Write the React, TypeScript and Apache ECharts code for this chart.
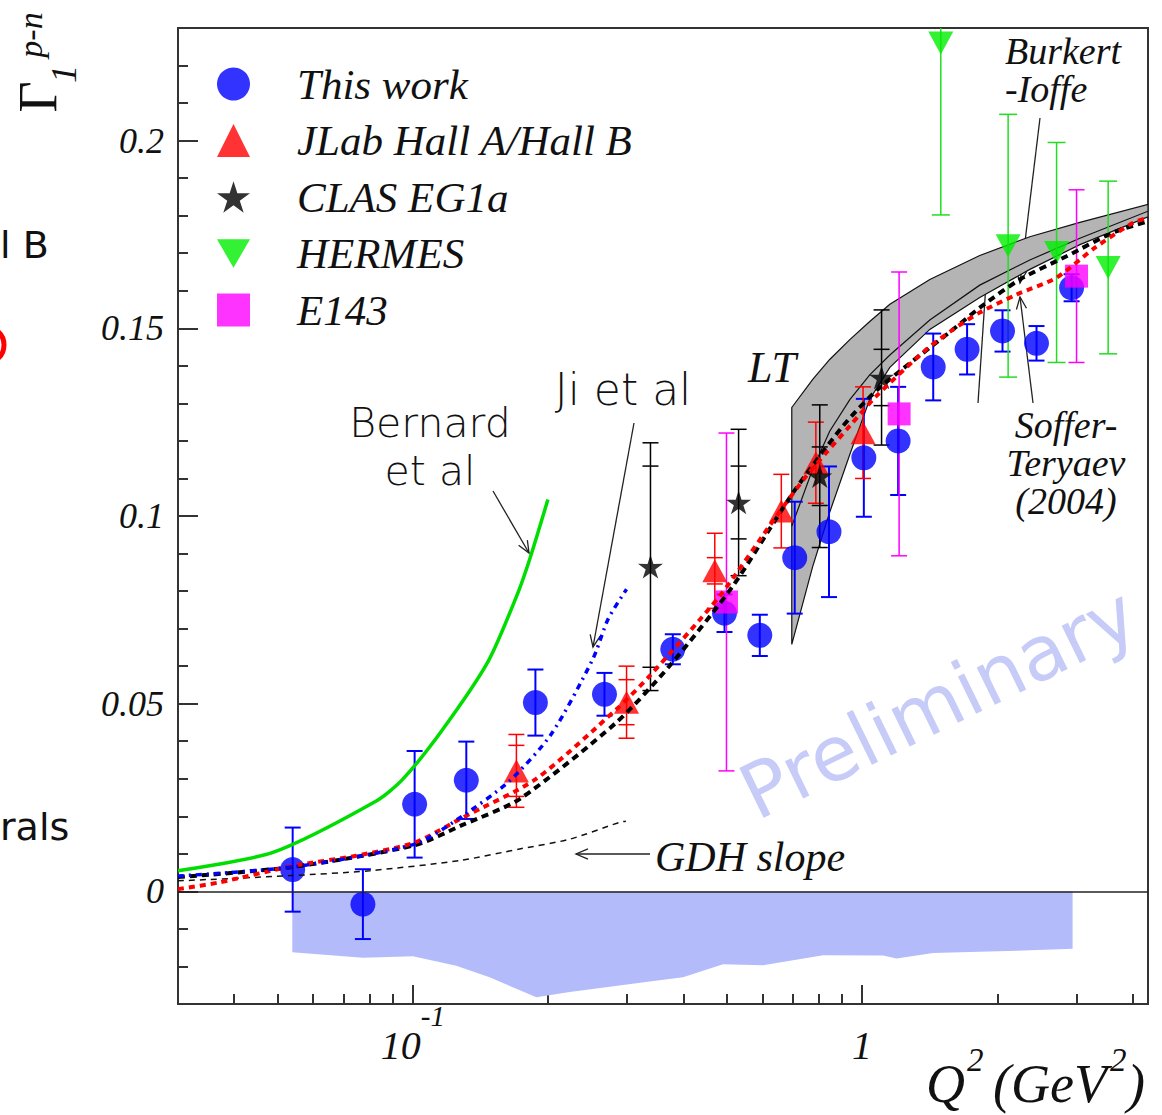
import React, { useEffect, useRef } from 'react';
import * as echarts from 'echarts';

const SERIF = '"Liberation Serif", "Times New Roman", serif';
const SANS = '"DejaVu Sans", Verdana, sans-serif';

// ---------- axes ----------
const X_MIN = 0.03;
const X_MAX = 4.33;
const Y_MIN = -0.03;
const Y_MAX = 0.23;
const xMajorTicks = [0.1, 1];
const xMinorTicks = [0.04, 0.05, 0.06, 0.07, 0.08, 0.09, 0.2, 0.3, 0.4, 0.5, 0.6, 0.7, 0.8, 0.9, 2, 3, 4];
const yMajorTicks = [0, 0.05, 0.1, 0.15, 0.2];
const yMinorTicks = [-0.02, -0.01, 0.01, 0.02, 0.03, 0.04, 0.06, 0.07, 0.08, 0.09, 0.11, 0.12, 0.13, 0.14, 0.16, 0.17, 0.18, 0.19, 0.21, 0.22];

// ---------- data points: [Q2, value, total error, inner error] ----------
const thisWork = [
  [0.054, 0.0058, 0.0112, 0], [0.0774, -0.0034, 0.0093, 0], [0.1009, 0.0232, 0.0142, 0],
  [0.1315, 0.0296, 0.0103, 0], [0.1874, 0.0503, 0.0088, 0], [0.267, 0.0525, 0.0057, 0],
  [0.379, 0.0645, 0.004, 0], [0.494, 0.0741, 0.005, 0], [0.592, 0.0682, 0.0055, 0],
  [0.708, 0.0889, 0.0149, 0], [0.844, 0.0958, 0.0174, 0], [1.009, 0.1155, 0.0157, 0],
  [1.203, 0.12, 0.0144, 0], [1.44, 0.1397, 0.0089, 0], [1.713, 0.1444, 0.0067, 0],
  [2.054, 0.1493, 0.0055, 0], [2.445, 0.146, 0.0046, 0], [2.927, 0.1608, 0.0036, 0],
];
const jlab = [
  [0.17, 0.0321, 0.0097, 0.0068], [0.299, 0.0504, 0.0096, 0.006], [0.47, 0.0854, 0.01, 0.0035],
  [0.661, 0.1013, 0.0098, 0], [0.789, 0.1142, 0.0108, 0], [1.005, 0.1222, 0.0122, 0],
];
const clas = [
  [0.338, 0.0865, 0.033, 0.0268], [0.531, 0.1036, 0.0195, 0.0097],
  [0.805, 0.1106, 0.019, 0.0078], [1.105, 0.1369, 0.018, 0.0075],
];
const hermes = [
  [1.497, 0.226, 0.0458, 0], [2.114, 0.172, 0.035, 0], [2.71, 0.1702, 0.0293, 0], [3.53, 0.1662, 0.023, 0],
];
const e143 = [
  [0.499, 0.0771, 0.045, 0], [1.209, 0.1272, 0.0378, 0], [3.002, 0.1639, 0.023, 0],
];

// ---------- model curves ----------
const bernard = [
  [0.03, 0.0055], [0.0488, 0.0104], [0.0829, 0.0241], [0.095, 0.0299], [0.1166, 0.0432],
  [0.147, 0.0612], [0.17, 0.0785], [0.182, 0.0885], [0.1998, 0.1044],
];
const ji = [
  [0.03, 0.0041], [0.054, 0.0065], [0.1009, 0.0126], [0.129, 0.0201], [0.164, 0.0294],
  [0.2033, 0.0419], [0.2518, 0.062], [0.2719, 0.0725], [0.299, 0.0805],
];
const sofferTeryaev = [
  [0.03, 0.0006], [0.0371, 0.0024], [0.0542, 0.0068], [0.0748, 0.0095], [0.1009, 0.013],
  [0.1292, 0.0197], [0.1877, 0.0299], [0.2838, 0.0485], [0.3366, 0.0574], [0.482, 0.0787],
  [0.645, 0.1], [0.752, 0.1107], [0.833, 0.1169], [0.939, 0.124], [1.077, 0.132],
  [1.391, 0.1444], [1.595, 0.1497], [1.828, 0.1542], [2.208, 0.159], [2.71, 0.1635],
  [3.3, 0.1715], [4.01, 0.1781], [4.33, 0.1795],
];
const burkertIoffe = [
  [0.03, 0.0038], [0.054, 0.0065], [0.1009, 0.0123], [0.129, 0.0177], [0.1728, 0.0246],
  [0.2838, 0.045], [0.373, 0.0601], [0.516, 0.0814], [0.702, 0.1062], [0.907, 0.124],
  [1.095, 0.1342], [1.595, 0.1497], [1.828, 0.1555], [2.245, 0.163], [2.852, 0.1692],
  [3.62, 0.1755], [4.33, 0.1785],
];
const gdhSlope = [
  [0.03, 0.0028], [0.0536, 0.0042], [0.0801, 0.0055], [0.127, 0.0082], [0.1728, 0.0113],
  [0.2234, 0.0139], [0.2886, 0.0184], [0.298, 0.0187],
];

// ---------- LT band ----------
const ltX = [0.6974, 0.7765, 0.847, 0.939, 1.04, 1.153, 1.415, 1.828, 2.363, 3.054, 4.33];
const ltUpper = [0.1289, 0.1364, 0.1417, 0.147, 0.1518, 0.1564, 0.163, 0.1694, 0.1744, 0.1782, 0.183];
const ltMiddle = [0.0973, 0.1125, 0.1226, 0.131, 0.1376, 0.1429, 0.1522, 0.1615, 0.1682, 0.174, 0.1812];
const ltLower = [0.0658, 0.0866, 0.101, 0.1164, 0.1311, 0.1396, 0.1497, 0.1582, 0.1657, 0.1723, 0.1797];

// ---------- systematic error band ----------
const systBand = [
  [0.0539, -0.0162], [0.0774, -0.0177], [0.1, -0.0173], [0.1249, -0.0198], [0.1482, -0.0229],
  [0.1883, -0.0282], [0.2234, -0.0268], [0.3366, -0.024], [0.3994, -0.0229], [0.4903, -0.0194],
  [0.6017, -0.0197], [0.8187, -0.017], [1.114, -0.0171], [1.193, -0.0179], [1.439, -0.0164],
  [2.208, -0.0158], [2.942, -0.0153],
];

const STAR = 'path://M0,-1L0.2233,-0.3074L0.9511,-0.309L0.3614,0.1174L0.5878,0.809L0,0.38L-0.5878,0.809L-0.3614,0.1174L-0.9511,-0.309L-0.2233,-0.3074Z';
const DOWN = 'path://M0,0L2,0L1,1.732Z';

function errBars(data: number[][], color: string, half: number, lw: number) {
  return {
    type: 'custom',
    z: 2,
    clip: true,
    silent: true,
    encode: { x: 0, y: 1 },
    data,
    renderItem: (params: any, api: any) => {
      const x = api.value(0), y = api.value(1), e = api.value(2), ei = api.value(3);
      const t = api.coord([x, y + e]);
      const b = api.coord([x, y - e]);
      const st = { stroke: color, lineWidth: lw };
      const cap = (p: number[]) => ({ type: 'line', shape: { x1: p[0] - half, y1: p[1], x2: p[0] + half, y2: p[1] }, style: st });
      const ch: any[] = [{ type: 'line', shape: { x1: t[0], y1: t[1], x2: b[0], y2: b[1] }, style: st }, cap(t), cap(b)];
      if (ei > 0) {
        ch.push(cap(api.coord([x, y + ei])), cap(api.coord([x, y - ei])));
      }
      return { type: 'group', children: ch };
    },
  };
}

function curve(data: number[][], color: string, width: number, type: any, z: number) {
  return {
    type: 'line', data, showSymbol: false, symbol: 'none', smooth: 0.25, silent: true, z,
    lineStyle: { color, width, type, cap: 'butt' },
  };
}

function arrow(x1: number, y1: number, x2: number, y2: number, head: boolean) {
  const a = Math.atan2(y2 - y1, x2 - x1);
  const len = 13, ang = 0.4;
  const st = { stroke: '#222', lineWidth: 1.3, fill: 'none' };
  const ch: any[] = [{ type: 'line', shape: { x1, y1, x2, y2 }, style: st }];
  if (head) {
    ch.push({
      type: 'polyline',
      shape: { points: [[x2 - len * Math.cos(a - ang), y2 - len * Math.sin(a - ang)], [x2, y2], [x2 - len * Math.cos(a + ang), y2 - len * Math.sin(a + ang)]] },
      style: st,
    });
  }
  return { type: 'group', children: ch };
}

function txt(text: string, x: number, y: number, size: number, opts: any = {}) {
  const align = opts.align || 'center';
  return {
    type: 'text', x, y, rotation: opts.rotation || 0, z: opts.z || 10,
    style: {
      text, fontSize: size, fontFamily: opts.family || SERIF, fontStyle: opts.style || 'italic',
      fontWeight: opts.weight || 'normal', fill: opts.fill || '#111',
      lineHeight: opts.lineHeight || undefined,
      align, verticalAlign: 'middle', textAlign: align, textVerticalAlign: 'middle',
    },
  };
}

export default function App() {
  const ref = useRef<HTMLDivElement>(null);
  useEffect(() => {
    if (!ref.current) return;
    const chart = echarts.init(ref.current, null, { renderer: 'svg' });
    const axisLine = { color: '#333', width: 2 };
    const xRich = {
      b: { fontFamily: SERIF, fontStyle: 'italic', fontSize: 40, lineHeight: 64, verticalAlign: 'bottom', color: '#111' },
      s: { fontFamily: SERIF, fontStyle: 'italic', fontSize: 29, lineHeight: 38, verticalAlign: 'top', color: '#111' },
    };
    const option: any = {
      animation: false,
      backgroundColor: '#fff',
      grid: { left: 178, top: 28, width: 970, height: 976, show: true, borderColor: '#333', borderWidth: 2, backgroundColor: 'transparent' },
      xAxis: [
        {
          type: 'log', logBase: 10, min: X_MIN, max: X_MAX, position: 'bottom',
          axisLine: { show: true, onZero: false, lineStyle: axisLine },
          axisTick: { show: true, inside: true, length: 19, customValues: xMajorTicks, lineStyle: axisLine },
          axisLabel: {
            show: true, customValues: xMajorTicks, margin: -3,
            formatter: (v: number) => (v < 0.5 ? '{b|10}{s|-1}' : '{b|1}'),
            rich: xRich,
          },
          splitLine: { show: false },
        },
        {
          type: 'log', logBase: 10, min: X_MIN, max: X_MAX, position: 'bottom',
          axisLine: { show: false, onZero: false },
          axisTick: { show: true, inside: true, length: 10, customValues: xMinorTicks, lineStyle: axisLine },
          axisLabel: { show: false },
          splitLine: { show: false },
        },
      ],
      yAxis: [
        {
          type: 'value', min: Y_MIN, max: Y_MAX, position: 'left',
          axisLine: { show: true, onZero: false, lineStyle: axisLine },
          axisTick: { show: true, inside: true, length: 20, customValues: yMajorTicks, lineStyle: axisLine },
          axisLabel: {
            show: true, customValues: yMajorTicks, margin: 14,
            formatter: (v: number) => String(+v.toFixed(2)),
            fontFamily: SERIF, fontStyle: 'italic', fontSize: 36, color: '#111',
          },
          splitLine: { show: false },
        },
        {
          type: 'value', min: Y_MIN, max: Y_MAX, position: 'left',
          axisLine: { show: false, onZero: false },
          axisTick: { show: true, inside: true, length: 10, customValues: yMinorTicks, lineStyle: axisLine },
          axisLabel: { show: false },
          splitLine: { show: false },
        },
      ],
      legend: {
        orient: 'vertical', left: 212, top: 57.5, itemWidth: 33, itemHeight: 33, itemGap: 13.5,
        selectedMode: false,
        data: [
          { name: 'This work', icon: 'circle' },
          { name: 'JLab Hall A/Hall B', icon: 'triangle' },
          { name: 'CLAS EG1a', icon: STAR },
          { name: 'HERMES', icon: DOWN },
          { name: 'E143', icon: 'rect' },
        ],
        formatter: (n: string) => `{t|${n}}`,
        textStyle: {
          rich: { t: { fontFamily: SERIF, fontStyle: 'italic', fontSize: 43, padding: [0, 0, 0, 42], color: '#111' } },
        },
      },
      series: [
        {
          type: 'line', data: systBand, showSymbol: false, symbol: 'none', silent: true, z: 1,
          lineStyle: { width: 0, color: '#b4bbfa' },
          areaStyle: { color: '#b4bbfa', opacity: 1 },
          markLine: {
            silent: true, symbol: ['none', 'none'], label: { show: false },
            lineStyle: { color: '#222', width: 1.5, type: 'solid' },
            data: [{ yAxis: 0 }],
          },
        },
        {
          type: 'custom', z: 1, clip: true, silent: true,
          encode: { x: 0, y: 1 },
          data: [[ltX[0], ltUpper[0]]],
          renderItem: (params: any, api: any) => {
            const up = ltX.map((x, i) => api.coord([x, ltUpper[i]]));
            const lo = ltX.map((x, i) => api.coord([x, ltLower[i]]));
            const mid = ltX.map((x, i) => api.coord([x, ltMiddle[i]]));
            return {
              type: 'group',
              children: [
                { type: 'polygon', shape: { points: up.concat(lo.slice().reverse()) }, style: { fill: '#b4b4b4', stroke: '#111', lineWidth: 1.2 } },
                { type: 'polyline', shape: { points: mid }, style: { stroke: '#111', lineWidth: 1.2, fill: 'none' } },
              ],
            };
          },
        },
        errBars(thisWork, '#0000ff', 8, 2),
        errBars(jlab, '#ff0000', 8, 1.5),
        errBars(clas, '#000000', 8, 1.5),
        errBars(hermes, '#22dd22', 9, 1.5),
        errBars(e143, '#ff00ff', 8, 1.5),
        { name: 'This work', type: 'scatter', z: 3, data: thisWork.map((d) => [d[0], d[1]]), symbol: 'circle', symbolSize: 25, itemStyle: { color: '#0000ff' } },
        { name: 'JLab Hall A/Hall B', type: 'scatter', z: 3, data: jlab.map((d) => [d[0], d[1]]), symbol: 'triangle', symbolSize: [25, 23], itemStyle: { color: '#ff0000' } },
        { name: 'CLAS EG1a', type: 'scatter', z: 3, data: clas.map((d) => [d[0], d[1]]), symbol: STAR, symbolKeepAspect: true, symbolSize: 25, itemStyle: { color: '#000000' } },
        { name: 'HERMES', type: 'scatter', z: 3, data: hermes.map((d) => [d[0], d[1]]), symbol: DOWN, symbolSize: [25, 23], itemStyle: { color: '#00ee00' } },
        { name: 'E143', type: 'scatter', z: 3, data: e143.map((d) => [d[0], d[1]]), symbol: 'rect', symbolSize: 23, itemStyle: { color: '#ff00ff' } },
        curve(gdhSlope, '#111', 1.5, [6, 5], 4),
        curve(burkertIoffe, '#000', 4, [7, 5], 4),
        curve(sofferTeryaev, '#ff0000', 4, [6, 5], 5),
        curve(ji, '#0000ff', 3.5, [6, 5, 2, 5], 5),
        curve(bernard, '#00dd00', 3.5, 'solid', 5),
      ],
      graphic: [
        // stray slide texts at the left edge
        txt('l B', 0, 245, 38, { family: SANS, style: 'normal', align: 'left' }),
        txt('rals', 0, 827, 38, { family: SANS, style: 'normal', align: 'left' }),
        { type: 'circle', shape: { cx: -14, cy: 345, r: 18 }, style: { fill: 'none', stroke: '#ff0000', lineWidth: 5 } },
        // y-axis title
        txt('Γ', 38, 97, 54, { style: 'normal', rotation: Math.PI / 2 }),
        txt('1', 64, 74, 36, { rotation: Math.PI / 2 }),
        txt('p-n', 30, 35, 34, { rotation: Math.PI / 2 }),
        // x-axis title
        txt('Q', 926, 1084, 54, { align: 'left' }),
        txt('2', 967, 1060, 33, { align: 'left' }),
        txt('(GeV', 993, 1084, 54, { align: 'left' }),
        txt('2', 1110, 1060, 33, { align: 'left' }),
        txt(')', 1127, 1084, 54, { align: 'left' }),
        // watermark
        txt('Preliminary', 938, 703, 76, { family: SANS, style: 'normal', rotation: 0.455, fill: '#c7cbf7', z: 0 }),
        // annotations
        txt('Bernard\net al', 430, 447, 41, { family: SANS, style: 'normal', weight: 200, lineHeight: 48 }),
        txt('Ji et al', 623, 389, 44, { family: SANS, style: 'normal', weight: 200 }),
        txt('LT', 772, 367, 44),
        txt('GDH slope', 655, 857, 42, { align: 'left' }),
        txt('Burkert\n-Ioffe', 1005, 70, 38, { align: 'left', lineHeight: 38 }),
        txt('Soffer-\nTeryaev\n(2004)', 1066, 463, 38, { lineHeight: 38 }),
        arrow(493, 491, 529, 553, true),
        arrow(634, 423, 593, 647, true),
        arrow(650, 854, 576, 854, true),
        arrow(1040, 118, 1020, 283, true),
        arrow(1033, 403, 1020, 297, true),
        arrow(978, 403, 988, 254, false),
      ],
    };
    chart.setOption(option);
    return () => chart.dispose();
  }, []);
  return <div ref={ref} style={{ position: 'fixed', left: 0, top: 0, width: 1162, height: 1115, background: '#fff' }} />;
}
